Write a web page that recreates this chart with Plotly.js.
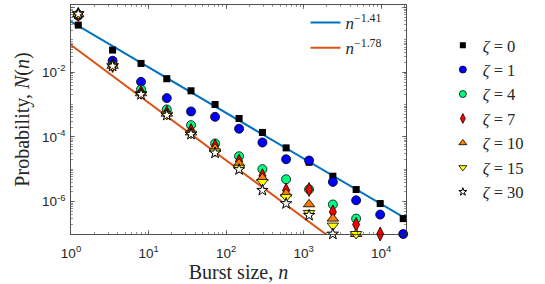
<!DOCTYPE html>
<html>
<head>
<meta charset="utf-8">
<script src="https://cdn.plot.ly/plotly-3.0.1.min.js"></script>
<style>html,body{margin:0;padding:0;background:#fff;}#chart{width:545px;height:284px;}</style>
</head>
<body>
<div id="chart"></div>
<script>
// Burst-size bins (n)
const burstSize = [1.24, 3.44, 8.0, 17.2, 35.3, 72.1, 147, 294, 594, 1175, 2382, 4753, 9705, 19230];

// Probabilities N(n) per zeta value
const zeta0  = [2.88e-1, 4.86e-2, 1.88e-2, 6.31e-3, 2.67e-3, 1.01e-3, 3.73e-4, 1.38e-4, 4.59e-5, 1.66e-5, 6.11e-6, 2.37e-6, 8.73e-7, 2.99e-7];
const zeta1  = [5.62e-1, 2.27e-2, 5.07e-3, 1.59e-3, 6.15e-4, 4.19e-4, 1.80e-4, 6.75e-5, 2.05e-5, 1.87e-5, 4.07e-6, 1.10e-6, 3.98e-7, 1.0e-7];
const zeta4  = [6.03e-1, 1.66e-2, 2.95e-3, 7.10e-4, 2.32e-4, 6.28e-5, 2.54e-5, 1.01e-5, 4.93e-6, 2.40e-6, 8.18e-7, 2.99e-7];
const zeta7  = [6.17e-1, 1.62e-2, 2.40e-3, 5.62e-4, 1.58e-4, 5.25e-5, 1.78e-5, 6.31e-6, 2.25e-6, 2.37e-6, 4.80e-7, 1.97e-7, 1.0e-7];
const zeta10 = [6.31e-1, 1.58e-2, 2.24e-3, 5.25e-4, 1.38e-4, 4.40e-5, 1.51e-5, 5.37e-6, 1.78e-6, 8.30e-7, 2.99e-7, 1.0e-7];
const zeta15 = [6.31e-1, 1.58e-2, 2.14e-3, 4.90e-4, 1.26e-4, 3.55e-5, 1.12e-5, 4.07e-6, 1.40e-6, 4.47e-7, 1.82e-7, 1.0e-7];
const zeta30 = [6.32e-1, 1.55e-2, 2.07e-3, 4.72e-4, 1.22e-4, 3.21e-5, 9.84e-6, 2.25e-6, 8.73e-7, 3.79e-7, 1.0e-7];

// Power-law fits: N(n) = A * n^k
const fitNames = ['<i>n</i><sup>\u22121.41</sup>', '<i>n</i><sup>\u22121.78</sup>'];
const fitPrefactor = [0.366, 0.0695];
const fitExponent = [-1.41, -1.78];
const fitRange = [1, 20900];

// Axis ticks
const xTickVals = [1, 10, 100, 1000, 10000];
const xTickText = ['10<sup>0</sup>', '10<sup>1</sup>', '10<sup>2</sup>', '10<sup>3</sup>', '10<sup>4</sup>'];
const yTickVals = [1, 1e-2, 1e-4, 1e-6];
const yTickText = ['10<sup>0</sup>', '10<sup>-2</sup>', '10<sup>-4</sup>', '10<sup>-6</sup>'];

const seriesNames = ['<i>\u03b6</i> = 0', '<i>\u03b6</i> = 1', '<i>\u03b6</i> = 4', '<i>\u03b6</i> = 7', '<i>\u03b6</i> = 10', '<i>\u03b6</i> = 15', '<i>\u03b6</i> = 30'];
const seriesData = [zeta0, zeta1, zeta4, zeta7, zeta10, zeta15, zeta30];

const styles = [
  {symbol: 'square', size: 7, color: '#000000', line: {color: '#000000', width: 0}},
  {symbol: 'circle', size: 9, color: '#0000ff', line: {color: '#000000', width: 0.8}},
  {symbol: 'circle', size: 9, color: '#00ff80', line: {color: '#000000', width: 0.8}},
  {symbol: 'diamond-tall', size: 10, color: '#ff0000', line: {color: '#000000', width: 0.8}},
  {symbol: 'triangle-up', size: 10, color: '#ff8000', line: {color: '#000000', width: 0.8}},
  {symbol: 'triangle-down', size: 10, color: '#ffff00', line: {color: '#000000', width: 0.8}},
  {symbol: 'star', size: 8.5, color: '#ffffff', line: {color: '#000000', width: 1}}
];
const legendSizes = [6, 7, 7, 7, 7, 7, 6];
const fitColors = ['#0072BD', '#D95319'];

const traces = [];
for (let i = 0; i < fitNames.length; i++) {
  traces.push({
    type: 'scatter', mode: 'lines',
    x: fitRange,
    y: fitRange.map(n => fitPrefactor[i] * Math.pow(n, fitExponent[i])),
    name: fitNames[i],
    line: {color: fitColors[i], width: 2},
    legend: 'legend2',
    hoverinfo: 'skip'
  });
}
// legend carriers: same data, smaller symbols, drawn underneath the full-size markers
for (let i = 0; i < seriesData.length; i++) {
  traces.push({
    type: 'scatter', mode: 'markers',
    x: burstSize.slice(0, seriesData[i].length),
    y: seriesData[i],
    name: seriesNames[i],
    marker: Object.assign({}, styles[i], {size: legendSizes[i]}),
    cliponaxis: false
  });
}
for (let i = 0; i < seriesData.length; i++) {
  traces.push({
    type: 'scatter', mode: 'markers',
    x: burstSize.slice(0, seriesData[i].length),
    y: seriesData[i],
    name: seriesNames[i],
    showlegend: false,
    marker: styles[i],
    cliponaxis: false
  });
}

const axisCommon = {
  type: 'log',
  showline: true, linecolor: '#262626', linewidth: 0.8,
  mirror: 'allticks',
  ticks: 'inside', ticklen: 4, tickcolor: '#262626', tickwidth: 0.6,
  showgrid: false, zeroline: false,
  tickfont: {family: 'Liberation Sans, Arial, sans-serif', size: 13.5, color: '#262626'},
  tickmode: 'array',
  minor: {ticks: 'inside', ticklen: 2, tickcolor: '#262626', tickwidth: 0.5, dtick: 'D1', showgrid: false}
};

const titleFont = {family: 'Liberation Serif, DejaVu Serif, serif', size: 20, color: '#262626'};

const layout = {
  width: 545, height: 284,
  margin: {l: 71, r: 139, t: 5, b: 50},
  paper_bgcolor: '#ffffff', plot_bgcolor: '#ffffff',
  showlegend: true,
  xaxis: Object.assign({}, axisCommon, {
    range: [0, 4.32],
    tickvals: xTickVals, ticktext: xTickText,
    ticklabelstandoff: 7,
    title: {text: 'Burst size, <i>n</i>', font: titleFont, standoff: 2}
  }),
  yaxis: Object.assign({}, axisCommon, {
    range: [-7, 0.08],
    tickvals: yTickVals, ticktext: yTickText,
    ticklabelstandoff: 2,
    title: {text: 'Probability, <i>N</i>(<i>n</i>)', font: titleFont, standoff: 6}
  }),
  legend: {
    x: 1.11, y: 0.9, xanchor: 'left', yanchor: 'top',
    bgcolor: 'rgba(255,255,255,0)', borderwidth: 0,
    font: {family: 'Liberation Serif, DejaVu Serif, serif', size: 16.5, color: '#262626'}
  },
  legend2: {
    x: 0.70, y: 1.0, xanchor: 'left', yanchor: 'top',
    bgcolor: 'rgba(255,255,255,0)', borderwidth: 0,
    font: {family: 'Liberation Serif, DejaVu Serif, serif', size: 17, color: '#262626'}
  }
};

Plotly.newPlot('chart', traces, layout, {staticPlot: true, displayModeBar: false});
</script>
</body>
</html>
